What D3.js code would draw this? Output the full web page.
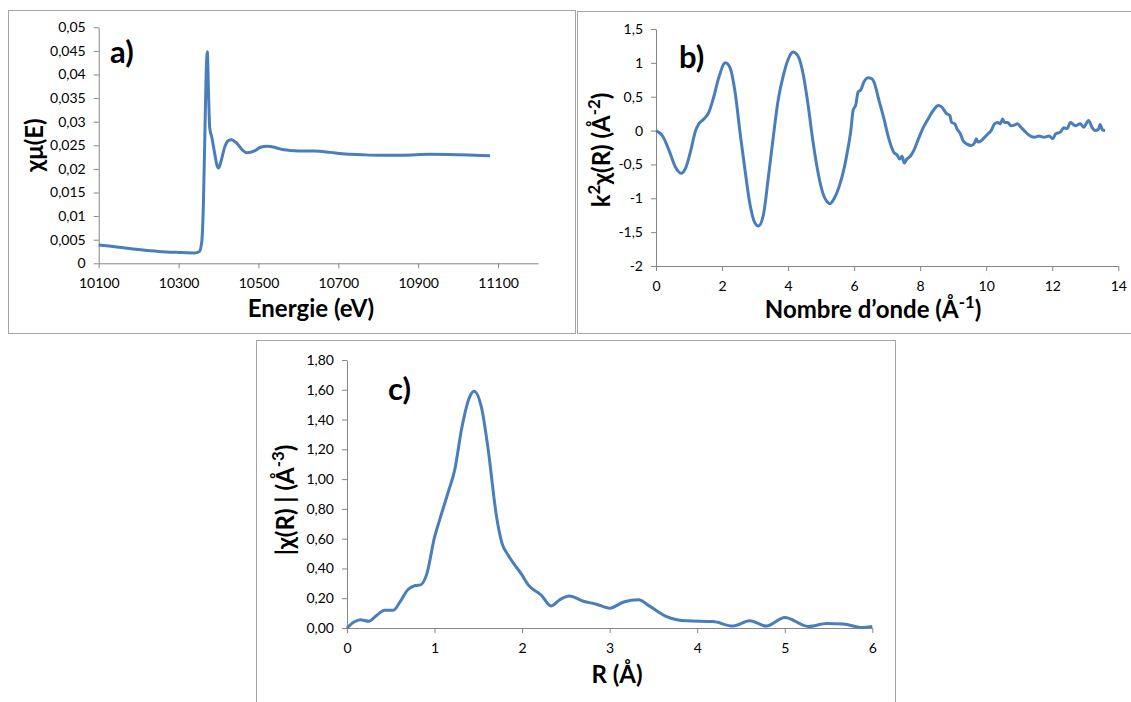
<!DOCTYPE html>
<html>
<head>
<meta charset="utf-8">
<script src="https://cdn.jsdelivr.net/npm/d3@7"></script>
<style>
  body { margin: 0; background: #fff; }
  svg text { font-family: Lato, "Open Sans", sans-serif; fill: #000; }
</style>
</head>
<body>
<div id="container"></div>
<script>
/* DATA */
// a) absorption edge
const energy = [10100, 10150, 10200, 10250, 10300, 10340, 10352, 10358, 10362, 10366, 10369, 10372, 10375, 10378, 10383, 10390, 10396, 10400, 10406, 10415, 10425, 10432, 10445, 10460, 10472, 10490, 10505, 10521, 10540, 10560, 10600, 10640, 10680, 10710, 10760, 10800, 10860, 10930, 11000, 11040, 11080];
const muE = [0.0039, 0.0034, 0.0029, 0.0025, 0.0023, 0.0022, 0.0025, 0.0045, 0.012, 0.028, 0.040, 0.0448, 0.036, 0.0287, 0.0268, 0.0235, 0.0208, 0.0202, 0.0215, 0.0245, 0.0260, 0.0262, 0.0255, 0.0240, 0.0234, 0.0238, 0.0246, 0.0248, 0.0246, 0.0241, 0.0238, 0.0238, 0.0235, 0.0232, 0.0230, 0.0229, 0.0229, 0.0231, 0.0230, 0.0229, 0.0228];
const energyTicks = [10100, 10300, 10500, 10700, 10900, 11100];
const muTicks = [0, 0.005, 0.01, 0.015, 0.02, 0.025, 0.03, 0.035, 0.04, 0.045, 0.05];

// b) k^2 chi(k)
const kValues = [0, 0.2, 0.4, 0.6, 0.76, 0.9, 1.05, 1.2, 1.3, 1.45, 1.6, 1.75, 1.9, 2.1, 2.25, 2.4, 2.55, 2.7, 2.85, 3.0, 3.1, 3.25, 3.4, 3.55, 3.7, 3.85, 4.0, 4.15, 4.3, 4.45, 4.6, 4.75, 4.9, 5.05, 5.2, 5.27, 5.4, 5.55, 5.7, 5.8, 5.9, 5.97, 6.05, 6.12, 6.2, 6.3, 6.42, 6.52, 6.6, 6.75, 6.9, 7.05, 7.2, 7.3, 7.38, 7.45, 7.52, 7.6, 7.7, 7.8, 7.95, 8.1, 8.25, 8.4, 8.55, 8.65, 8.8, 8.9, 8.95, 9.05, 9.12, 9.2, 9.3, 9.42, 9.55, 9.65, 9.7, 9.75, 9.85, 9.95, 10.05, 10.15, 10.25, 10.35, 10.42, 10.5, 10.55, 10.65, 10.75, 10.85, 10.95, 11.05, 11.15, 11.3, 11.45, 11.6, 11.75, 11.9, 12.02, 12.1, 12.25, 12.35, 12.45, 12.55, 12.7, 12.85, 12.95, 13.1, 13.2, 13.3, 13.4, 13.45, 13.52, 13.6];
const k2chi = [0, -0.08, -0.3, -0.55, -0.63, -0.55, -0.3, 0.0, 0.1, 0.17, 0.27, 0.5, 0.78, 1.0, 0.92, 0.55, -0.05, -0.6, -1.1, -1.37, -1.41, -1.25, -0.7, -0.1, 0.45, 0.8, 1.05, 1.16, 1.1, 0.85, 0.4, -0.15, -0.6, -0.92, -1.06, -1.08, -1.0, -0.82, -0.55, -0.3, 0.0, 0.3, 0.38, 0.57, 0.6, 0.72, 0.78, 0.77, 0.72, 0.45, 0.18, -0.12, -0.32, -0.36, -0.42, -0.38, -0.48, -0.42, -0.38, -0.3, -0.12, 0.05, 0.18, 0.3, 0.37, 0.35, 0.25, 0.22, 0.12, 0.1, 0.02, -0.03, -0.15, -0.2, -0.22, -0.18, -0.12, -0.17, -0.15, -0.1, -0.05, 0.0, 0.1, 0.12, 0.1, 0.17, 0.12, 0.12, 0.07, 0.08, 0.1, 0.05, 0.0, -0.07, -0.1, -0.08, -0.1, -0.08, -0.12, -0.05, -0.02, 0.04, 0.03, 0.12, 0.07, 0.1, 0.05, 0.15, 0.05, 0.0, 0.02, 0.09, 0.01, 0.0];
const kTicks = [0, 2, 4, 6, 8, 10, 12, 14];
const chiTicks = [-2, -1.5, -1, -0.5, 0, 0.5, 1, 1.5];

// c) |chi(R)|
const rValues = [0, 0.08, 0.15, 0.25, 0.33, 0.43, 0.53, 0.6, 0.7, 0.78, 0.84, 0.91, 1.0, 1.06, 1.16, 1.23, 1.31, 1.40, 1.45, 1.54, 1.61, 1.71, 1.77, 1.84, 2.0, 2.07, 2.22, 2.33, 2.43, 2.54, 2.70, 2.85, 3.0, 3.16, 3.33, 3.46, 3.65, 3.88, 4.18, 4.41, 4.60, 4.79, 5.0, 5.27, 5.48, 5.67, 5.88, 6.0];
const chiR = [0, 0.04, 0.056, 0.045, 0.08, 0.12, 0.12, 0.17, 0.26, 0.285, 0.29, 0.36, 0.61, 0.73, 0.92, 1.06, 1.34, 1.55, 1.59, 1.47, 1.21, 0.74, 0.57, 0.49, 0.355, 0.29, 0.22, 0.148, 0.19, 0.215, 0.18, 0.16, 0.133, 0.175, 0.19, 0.145, 0.077, 0.048, 0.043, 0.013, 0.048, 0.013, 0.07, 0.01, 0.03, 0.027, 0.003, 0.01];
const rTicks = [0, 1, 2, 3, 4, 5, 6];
const chiRTicks = [0, 0.2, 0.4, 0.6, 0.8, 1.0, 1.2, 1.4, 1.6, 1.8];

/* SETUP */
const width = 1131, height = 702;
const lineColor = "#4a7ebb";
const axisColor = "#868686";

const svg = d3.select("#container")
  .append("svg")
  .attr("width", width)
  .attr("height", height);

// excel style numbers with a comma
const commaGeneral = d => String(+d.toFixed(3)).replace(".", ",");
const commaFixed2 = d => d.toFixed(2).replace(".", ",");

function drawPanel(p) {
  // frame
  svg.append("rect")
    .attr("x", p.frame[0] + 0.5).attr("y", p.frame[1] + 0.5)
    .attr("width", p.frame[2]).attr("height", p.frame[3])
    .attr("fill", "none").attr("stroke", "#a5a5a5");

  const xScale = d3.scaleLinear().domain(p.xDomain).range([p.left, p.right]);
  const yScale = d3.scaleLinear().domain(p.yDomain).range([p.bottom, p.top]);

  // y axis
  const yAxis = svg.append("g")
    .attr("transform", `translate(${p.left},0)`)
    .call(d3.axisLeft(yScale).tickValues(p.yTicks).tickFormat(p.yFormat)
      .tickSize(5).tickSizeOuter(0).tickPadding(8));

  // x axis
  const xAxis = svg.append("g")
    .attr("transform", `translate(0,${p.bottom})`)
    .call(d3.axisBottom(xScale).tickValues(p.xTicks).tickFormat(p.xFormat)
      .tickSize(5).tickSizeOuter(0).tickPadding(10));

  [xAxis, yAxis].forEach(ax => {
    ax.select(".domain").attr("stroke", axisColor);
    ax.selectAll(".tick line").attr("stroke", axisColor);
    ax.selectAll(".tick text").attr("font-size", 14).attr("font-family", "Lato, sans-serif");
  });

  // the curve
  const line = d3.line()
    .x((d, i) => xScale(p.xs[i]))
    .y(d => yScale(d))
    .curve(d3.curveMonotoneX);

  svg.append("path")
    .datum(p.ys)
    .attr("d", line)
    .attr("fill", "none")
    .attr("stroke", lineColor)
    .attr("stroke-width", 3)
    .attr("stroke-linejoin", "round");

  // panel label
  svg.append("text")
    .attr("x", p.tag[0]).attr("y", p.tag[1])
    .attr("font-size", 31).attr("font-weight", "bold")
    .text(p.tag[2]);

  // x title
  const xt = svg.append("text")
    .attr("x", p.xTitle[0]).attr("y", p.xTitle[1])
    .attr("text-anchor", "middle")
    .attr("font-size", 24).attr("font-weight", "bold");
  addParts(xt, p.xTitle[2]);

  // y title
  const yt = svg.append("text")
    .attr("transform", `translate(${p.yTitle[0]},${p.yTitle[1]}) rotate(-90)`)
    .attr("text-anchor", "middle")
    .attr("font-size", 24).attr("font-weight", "bold");
  addParts(yt, p.yTitle[2]);
}

// parts: list of [text, isSuperscript]
function addParts(sel, parts) {
  parts.forEach(([t, sup]) => {
    const ts = sel.append("tspan").text(t);
    if (sup) ts.attr("baseline-shift", "super").attr("font-size", "70%");
  });
}

/* PANELS */
drawPanel({
  frame: [8, 10, 567, 323],
  left: 98.7, right: 538, top: 27.3, bottom: 263.3,
  xDomain: [10100, 11200], yDomain: [0, 0.05],
  xTicks: energyTicks, yTicks: muTicks,
  xFormat: d => String(d), yFormat: commaGeneral,
  xs: energy, ys: muE,
  tag: [110, 63, "a)"],
  xTitle: [311, 317, [["Energie (eV)", false]]],
  yTitle: [43, 145, [["χμ(E)", false]]]
});

drawPanel({
  frame: [577, 11, 560, 322],
  left: 656, right: 1118.3, top: 29, bottom: 266,
  xDomain: [0, 14], yDomain: [-2, 1.5],
  xTicks: kTicks, yTicks: chiTicks,
  xFormat: d => String(d), yFormat: commaGeneral,
  xs: kValues, ys: k2chi,
  tag: [679, 68, "b)"],
  xTitle: [873, 318, [["Nombre d’onde (Å", false], ["-1", true], [")", false]]],
  yTitle: [610, 150, [["k", false], ["2", true], ["χ(R) (Å", false], ["-2", true], [")", false]]]
});

drawPanel({
  frame: [256, 340, 639, 370],
  left: 347, right: 872.3, top: 360, bottom: 628,
  xDomain: [0, 6], yDomain: [0, 1.8],
  xTicks: rTicks, yTicks: chiRTicks,
  xFormat: d => String(d), yFormat: commaFixed2,
  xs: rValues, ys: chiR,
  tag: [388, 400, "c)"],
  xTitle: [617, 683, [["R (Å)", false]]],
  yTitle: [294, 500, [["|χ(R) | (Å", false], ["-3", true], [")", false]]]
});
</script>
</body>
</html>
